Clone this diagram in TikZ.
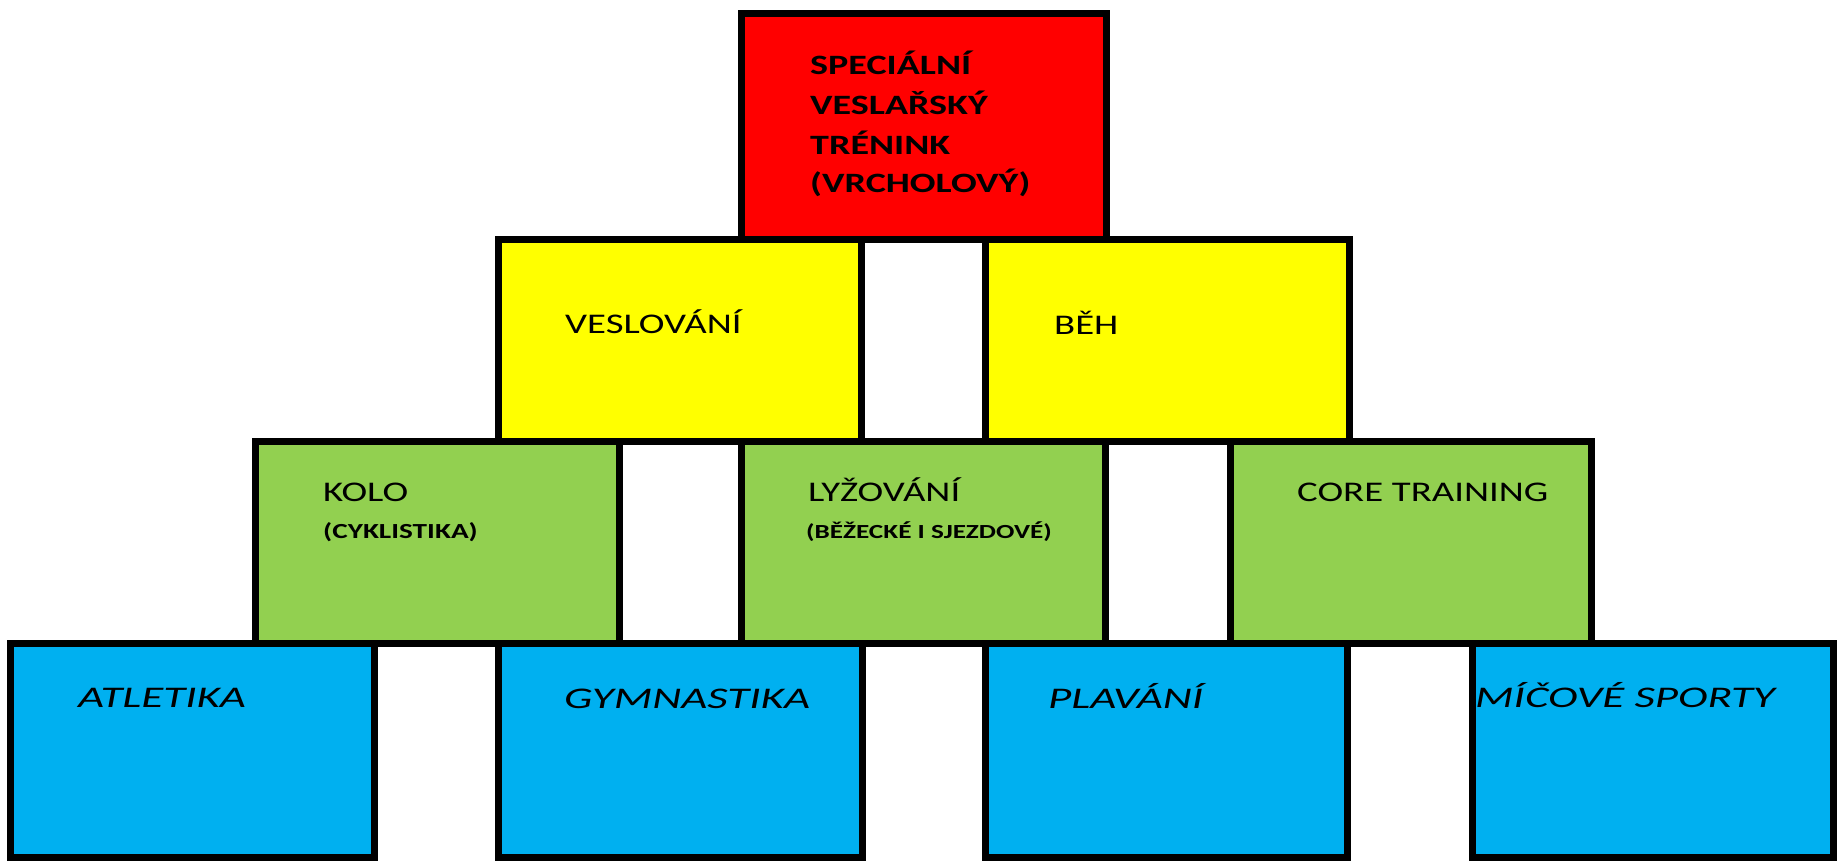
\documentclass[tikz,border=0pt]{standalone}
\usepackage{fontspec}
\usetikzlibrary{fit}
\newfontfamily\calfont{Carlito}[FakeStretch=1.36]
\newfontfamily\calitfont{Carlito}[FakeStretch=1.5]
\definecolor{topred}{HTML}{FF0000}
\definecolor{midyellow}{HTML}{FFFF00}
\definecolor{lowgreen}{HTML}{92D050}
\definecolor{basblue}{HTML}{00B0F0}
\tikzset{
  blk/.style={draw=black, line width=7pt, inner sep=0pt, outer sep=0pt},
  lbl/.style={anchor=base west, inner sep=0pt, text=black, font=\calfont\fontsize{28.5}{34}\selectfont},
  lblb/.style={lbl, font=\calfont\bfseries\fontsize{28}{34}\selectfont},
  sub/.style={lbl, font=\calfont\bfseries\fontsize{#1}{24}\selectfont},
  lbli/.style={lbl, font=\calitfont\itshape\fontsize{30}{34}\selectfont}
}
\begin{document}
\begin{tikzpicture}[x=1pt,y=-1pt]
\useasboundingbox (0,0) rectangle (1838,861);
\fill[white] (0,0) rectangle (1838,861);
% top
\node[blk, fill=topred, fit={(741,13.5) (1106,239)}] (top) {};
% yellow
\node[blk, fill=midyellow, fit={(498,239) (861,441)}] (yl) {};
\node[blk, fill=midyellow, fit={(985,239) (1349,441)}] (yr) {};
% green
\node[blk, fill=lowgreen, fit={(255,441) (619,643)}] (gk) {};
\node[blk, fill=lowgreen, fit={(741,441) (1105,643)}] (gl) {};
\node[blk, fill=lowgreen, fit={(1230,441) (1591,643)}] (gc) {};
% blue
\node[blk, fill=basblue, fit={(10.5,643) (374,857)}] (ba) {};
\node[blk, fill=basblue, fit={(498,643) (862,857)}] (bg) {};
\node[blk, fill=basblue, fit={(985,643) (1347,857)}] (bp) {};
\node[blk, fill=basblue, fit={(1472,643) (1833,857)}] (bm) {};
% texts
\node[lblb] (t1) at (810,75) {SPECIÁLNÍ};
\node[lblb] (t2) at (810,115) {VESLAŘSKÝ};
\node[lblb] (t3) at (810,155) {TRÉNINK};
\node[lblb] (t4) at (810,193) {(VRCHOLOVÝ)};
\node[lbl] (tyl) at (565,333) {VESLOVÁNÍ};
\node[lbl] (tyr) at (1054,334) {BĚH};
\node[lbl] (tgk) at (323,501) {KOLO};
\node[sub=21.5] (sgk) at (323,538) {(CYKLISTIKA)};
\node[lbl] (tgl) at (808,501) {LYŽOVÁNÍ};
\node[sub=20] (sgl) at (806,538) {(BĚŽECKÉ I SJEZDOVÉ)};
\node[lbl] (tgc) at (1297,501) {CORE TRAINING};
\node[lbli] (tba) at (78,707) {ATLETIKA};
\node[lbli] (tbg) at (564,708) {GYMNASTIKA};
\node[lbli] (tbp) at (1048,708) {PLAVÁNÍ};
\node[lbli] (tbm) at (1475,707) {MÍČOVÉ SPORTY};
\end{tikzpicture}
\end{document}
